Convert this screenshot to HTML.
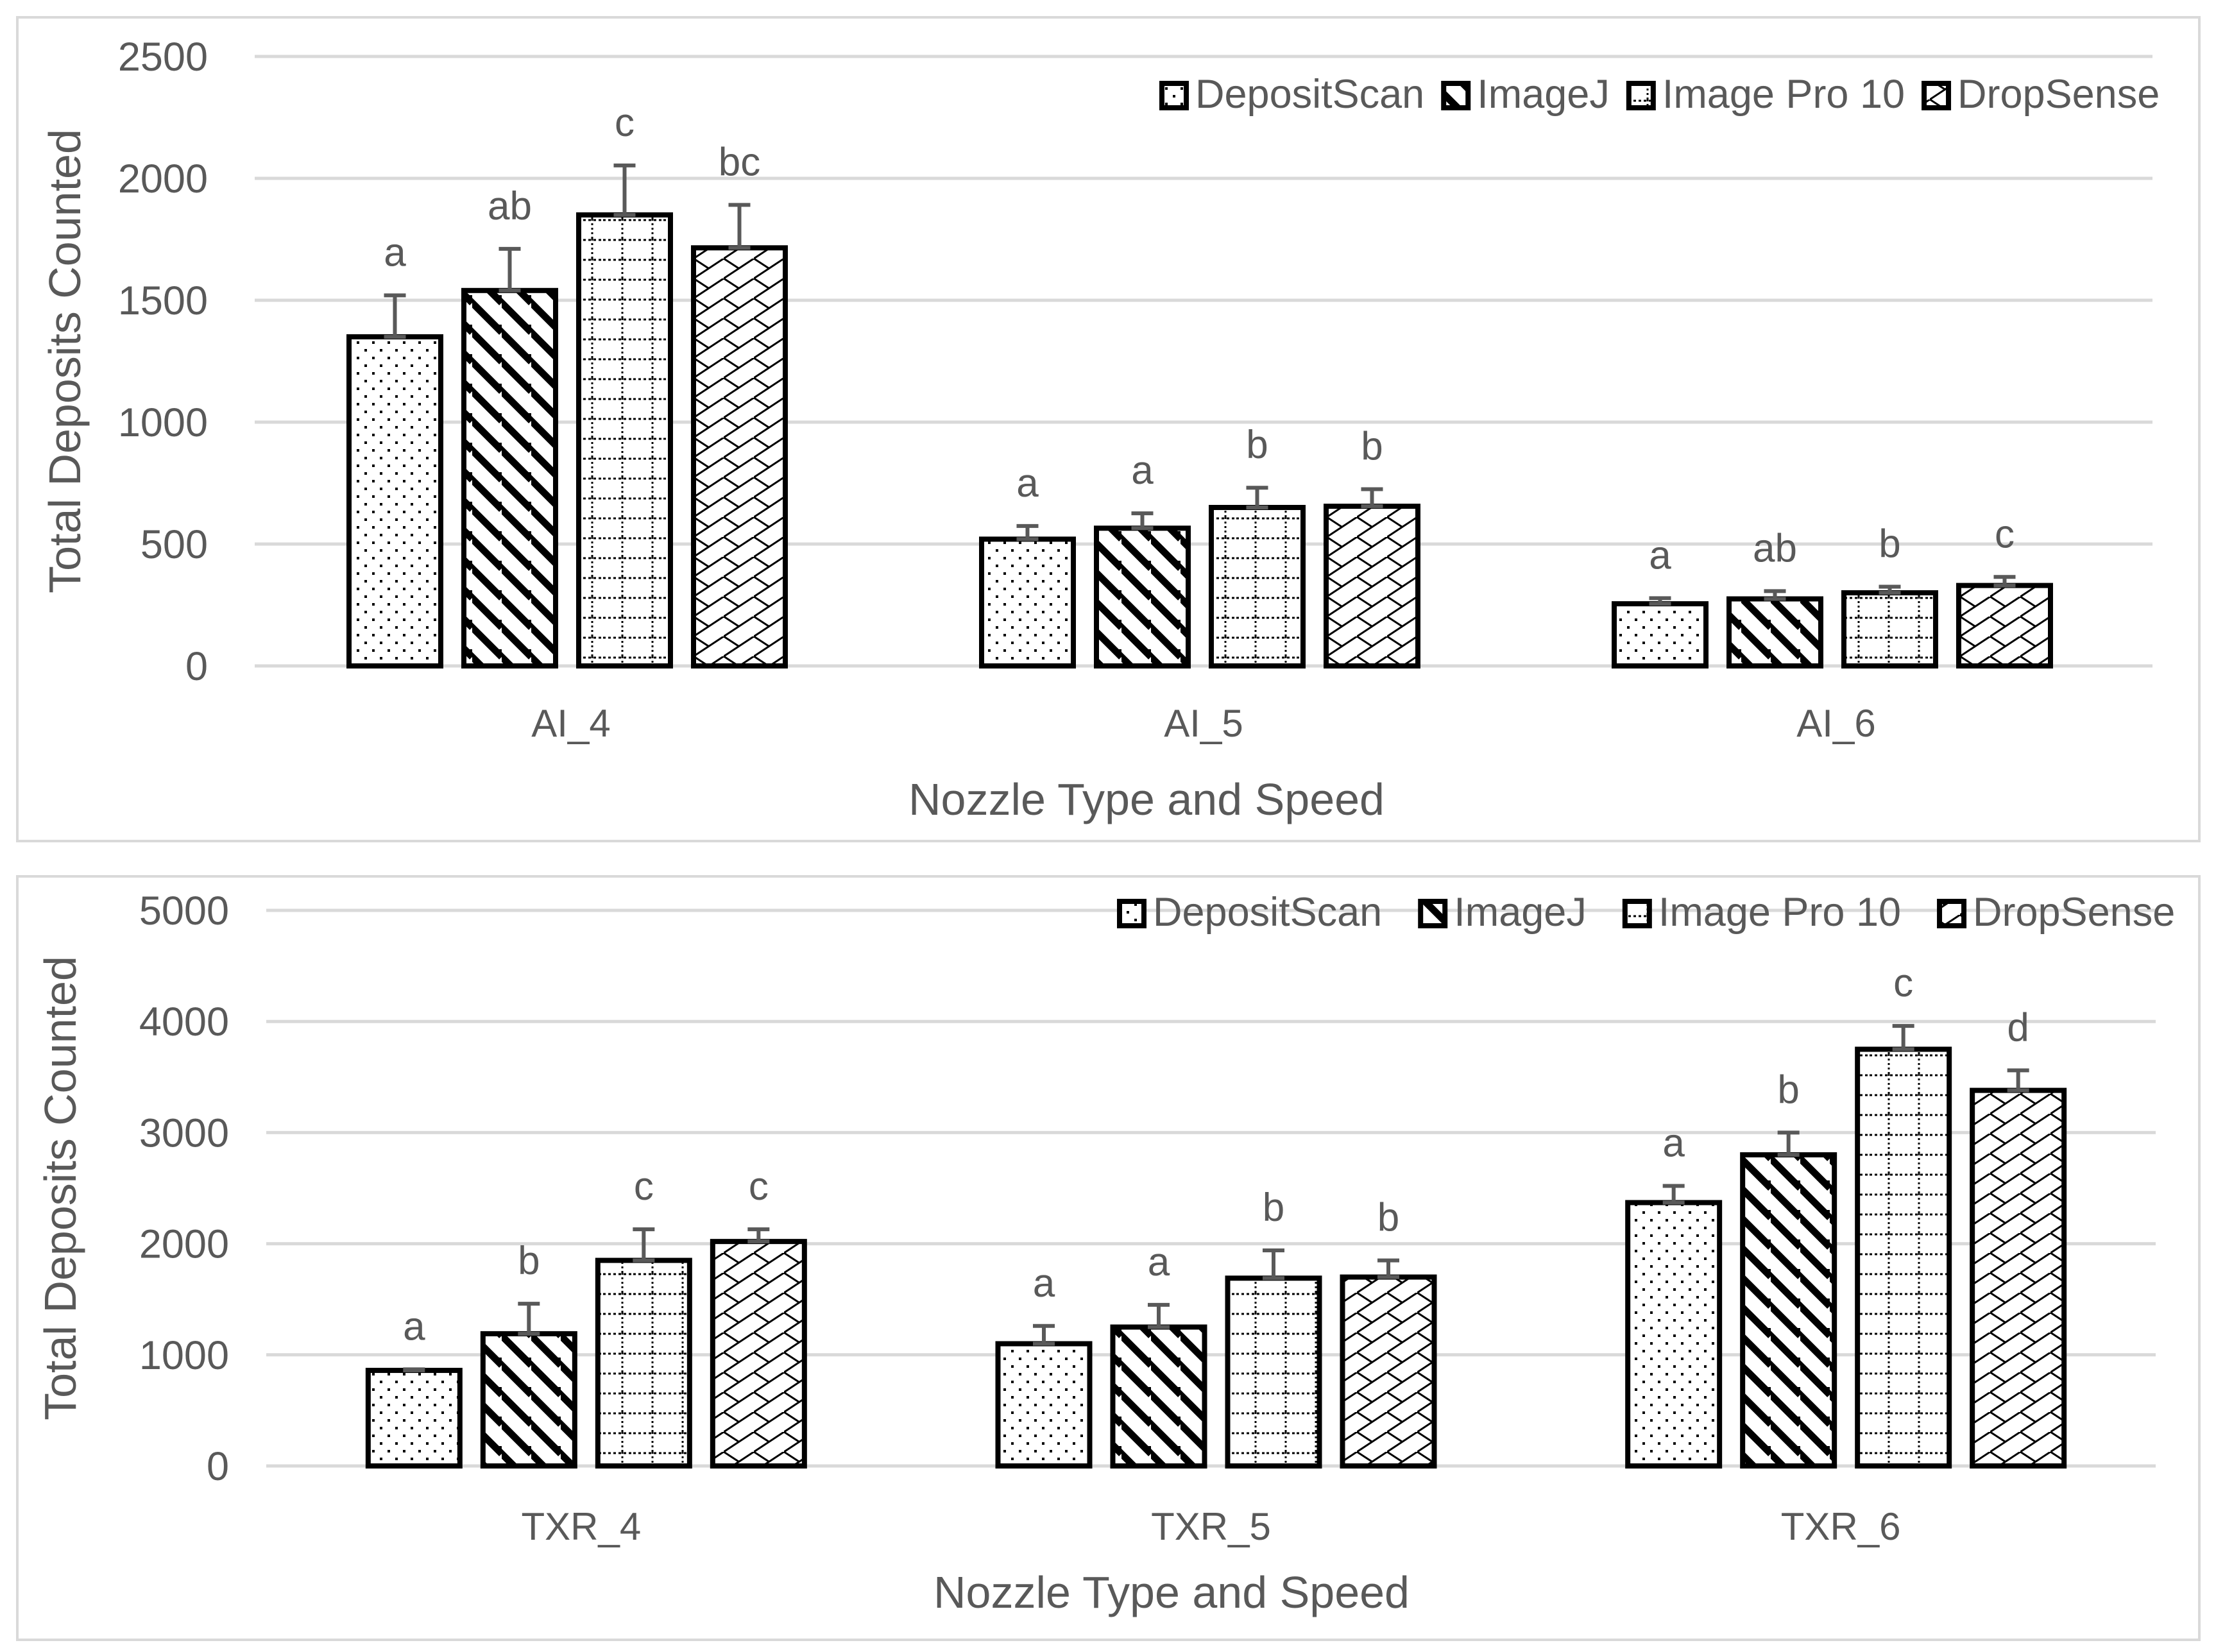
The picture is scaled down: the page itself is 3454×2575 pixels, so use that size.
<!DOCTYPE html>
<html><head><meta charset="utf-8">
<style>
html,body{margin:0;padding:0;background:#fff;}
svg{display:block;}
text{font-family:"Liberation Sans",sans-serif;fill:#595959;}
</style></head>
<body>
<svg id="chart" width="3454" height="2575" viewBox="0 0 3454 2575" xmlns="http://www.w3.org/2000/svg">
<defs>
<pattern id="p0" patternUnits="userSpaceOnUse" width="24" height="24"><rect width="24" height="24" fill="#fff"/><rect x="4" y="4" width="4" height="4" fill="#000"/><rect x="16" y="16" width="4" height="4" fill="#000"/></pattern>
<pattern id="p1" patternUnits="userSpaceOnUse" width="46" height="46"><rect width="46" height="46" fill="#fff"/><path d="M-12,0 L46,58 M-12,-46 L46,12 M34,-12 L92,46" stroke="#000" stroke-width="11"/></pattern>
<pattern id="p2" patternUnits="userSpaceOnUse" width="47" height="31"><rect width="47" height="31" fill="#fff"/><line x1="0" y1="2" x2="47" y2="2" stroke="#000" stroke-width="3" stroke-dasharray="4,4"/><line x1="30" y1="0" x2="30" y2="31" stroke="#000" stroke-width="3" stroke-dasharray="3,4"/></pattern>
<pattern id="p3" patternUnits="userSpaceOnUse" width="47" height="31"><rect width="47" height="31" fill="#fff"/><path d="M0,31 L47,0 M0,0 L23,15" stroke="#000" stroke-width="3"/></pattern>
</defs>
<rect x="27" y="27" width="3401" height="1284" fill="#fff" stroke="#d9d9d9" stroke-width="4"/>
<rect x="27" y="1366" width="3401" height="1190" fill="#fff" stroke="#d9d9d9" stroke-width="4"/>
<g id="top"></g>
<g id="bot"></g>
</svg>
<script>
const seriesNames = ["DepositScan","ImageJ","Image Pro 10","DropSense"];
const topCategories = ["AI_4","AI_5","AI_6"];
const topMeans = [[1350,520,255],[1540,565,275],[1850,650,300],[1715,655,330]];
const topErrTop = [[1520,574,278],[1711,626,307],[2053,731,325],[1891,725,365]];
const topLetters = [["a","a","a"],["ab","a","ab"],["c","b","b"],["bc","b","c"]];
const topTicks = [0,500,1000,1500,2000,2500];
const botCategories = ["TXR_4","TXR_5","TXR_6"];
const botMeans = [[860,1100,2370],[1190,1250,2800],[1850,1690,3750],[2020,1700,3380]];
const botErrTop = [[870,1260,2520],[1460,1450,3000],[2130,1940,3960],[2130,1850,3560]];
const botLetters = [["a","a","a"],["b","a","b"],["c","b","c"],["c","b","d"]];
const botTicks = [0,1000,2000,3000,4000,5000];

const NS="http://www.w3.org/2000/svg";
function mk(parent,tag,attrs,txt){const e=document.createElementNS(NS,tag);for(const k in attrs)e.setAttribute(k,attrs[k]);if(txt!==undefined)e.textContent=txt;parent.appendChild(e);return e;}

function draw(g,cfg){
  const y=v=>cfg.y0-(v/cfg.max)*(cfg.y0-cfg.yTop);
  const plotW=cfg.x1-cfg.x0, grpW=plotW/3;
  cfg.ticks.forEach(t=>{
    const l=mk(g,"line",{x1:cfg.x0,x2:cfg.x1,y1:y(t),y2:y(t),stroke:"#d9d9d9","stroke-width":5});
    
    
    const tx=mk(g,"text",{x:cfg.tickX,y:y(t)+22,"text-anchor":"end","font-size":63},String(t));
    
    
  });
  const yt=mk(g,"text",{x:0,y:0,"text-anchor":"middle","font-size":70,transform:`translate(${cfg.ytX},${(cfg.yTop+cfg.y0)/2}) rotate(-90)`},"Total Deposits Counted");
  
  
  const xt=mk(g,"text",{x:cfg.xtX,y:cfg.xtY,"text-anchor":"middle","font-size":70},"Nozzle Type and Speed");
  
  
  const bw=143, step=179;
  cfg.cats.forEach((c,ci)=>{
    const cx=cfg.x0+grpW*(ci+0.5);
    const cl=mk(g,"text",{x:cx,y:cfg.catY,"text-anchor":"middle","font-size":60},c);
    
    
    for(let s=0;s<4;s++){
      const bx=cx+cfg.barOff+(s-1.5)*step-bw/2;
      const v=cfg.means[s][ci];
      const r=mk(g,"rect",{x:bx,y:y(v),width:bw,height:cfg.y0-y(v),fill:`url(#p${s})`,stroke:"#000","stroke-width":8});
      
      
      const et=cfg.err[s][ci];
      const e=mk(g,"path",{d:`M${bx+bw/2},${y(v)} V${y(et)} M${bx+bw/2-17},${y(et)} H${bx+bw/2+17} M${bx+bw/2-17},${y(v)} H${bx+bw/2+17}`,stroke:"#595959","stroke-width":6,fill:"none"});
      
      
      const lt=mk(g,"text",{x:bx+bw/2,y:y(et)-46,"text-anchor":"middle","font-size":62},cfg.letters[s][ci]);
      
      
    }
  });
  let lx=cfg.legX;
  const lg=mk(g,"g",{});
  
  
  seriesNames.forEach((n,s)=>{
    const sw=mk(lg,"rect",{x:lx,y:cfg.legY-38,width:38,height:38,fill:`url(#p${s})`,stroke:"#000","stroke-width":8});
    
    
    const t=mk(lg,"text",{x:lx+52,y:cfg.legY,"font-size":63},n);
    
    
    lx+=52+t.getComputedTextLength()+cfg.legGap;
  });
}
draw(document.getElementById('top'),{x0:397,x1:3355,y0:1038,yTop:88,max:2500,ticks:topTicks,tickX:324,ytX:125,xtX:1787,xtY:1270,catY:1148,barOff:-6,
  cats:topCategories,means:topMeans,err:topErrTop,letters:topLetters,legX:1811,legY:168,legGap:30});
draw(document.getElementById('bot'),{x0:415,x1:3360,y0:2285,yTop:1419,max:5000,ticks:botTicks,tickX:357,ytX:118,xtX:1826,xtY:2506,catY:2400,barOff:8,
  cats:botCategories,means:botMeans,err:botErrTop,letters:botLetters,legX:1745,legY:1443,legGap:60});
</script>
</body></html>
